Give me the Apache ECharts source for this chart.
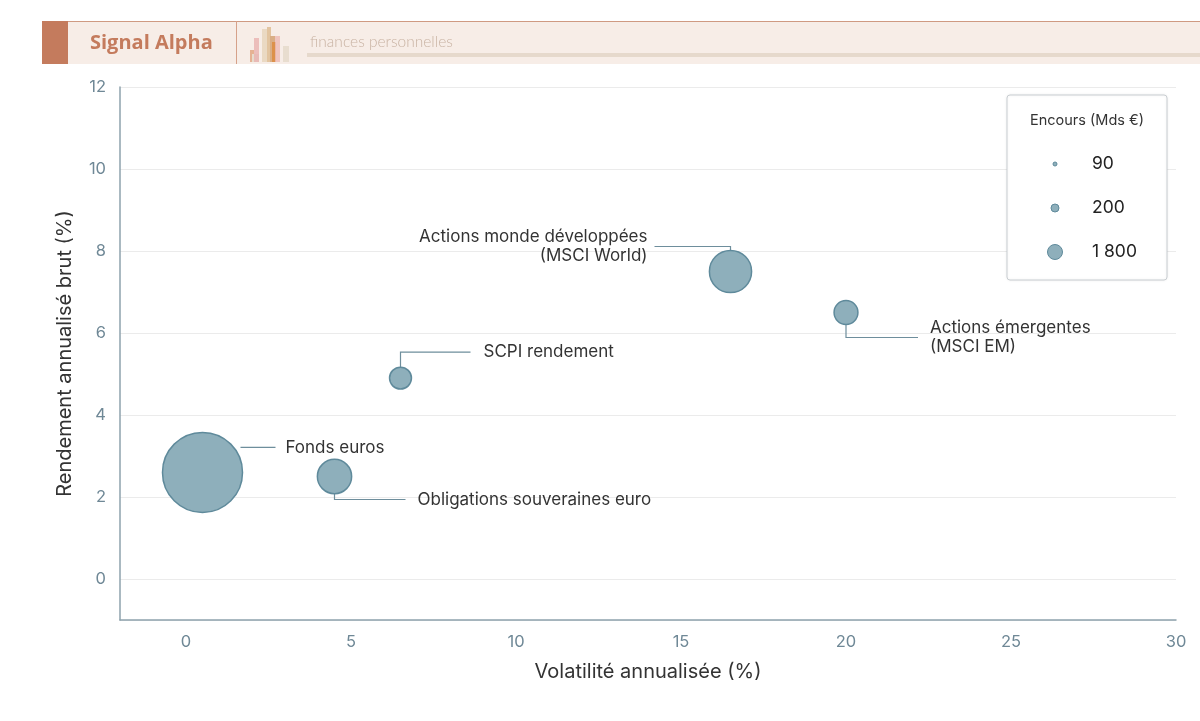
<!DOCTYPE html>
<html>
<head>
<meta charset="utf-8">
<script src="https://cdn.jsdelivr.net/npm/echarts@6/dist/echarts.min.js"></script>
<style>
  html, body { margin: 0; padding: 0; background: #fff; }
  #main { width: 1200px; height: 721px; }
</style>
</head>
<body>
<div id="main"></div>
<script>
var myChart = echarts.init(document.getElementById('main'));

// données
var names = ['Fonds euros', 'Obligations souveraines euro', 'SCPI rendement',
    'Actions monde développées\n(MSCI World)', 'Actions émergentes\n(MSCI EM)'];
var volatility = [0.5, 4.5, 6.5, 16.5, 20];
var returns = [2.6, 2.5, 4.9, 7.5, 6.5];
var assets = [1800, 330, 135, 500, 160];
var legendValues = [90, 200, 1800];
var legendLabels = ['90', '200', '1 800'];

// placement des étiquettes (style)
var labelPos = [
    { dir: 'h', dy: -25, x0: 38, x1: 73, tx: 83, align: 'left' },
    { dir: 'down', dy: 23, x1: 71, tx: 83, align: 'left' },
    { dir: 'up', dy: -26, x1: 70, tx: 83, align: 'left' },
    { dir: 'up', dy: -25, x1: -76, tx: -83, align: 'right' },
    { dir: 'down', dy: 25, x1: 72, tx: 84, align: 'left' }
];

var fill = '#8eafbb';
var stroke = '#5f8a9b';
var lineColor = '#6e8e9c';

var sizeOf = function (v) { return 1.886 * Math.sqrt(v); };

var data = [];
for (var i = 0; i < names.length; i++) {
    data.push([volatility[i], returns[i], assets[i], names[i]]);
}

var renderLabel = function (params, api) {
    var i = params.dataIndex;
    var c = api.coord([api.value(0), api.value(1)]);
    var r = sizeOf(api.value(2)) / 2;
    var p = labelPos[i];
    var pts;
    if (p.dir === 'h') {
        pts = [[c[0] + p.x0, c[1] + p.dy], [c[0] + p.x1, c[1] + p.dy]];
    } else {
        var edge = p.dir === 'up' ? -r : r;
        pts = [[c[0], c[1] + edge], [c[0], c[1] + p.dy], [c[0] + p.x1, c[1] + p.dy]];
    }
    return {
        type: 'group',
        children: [{
            type: 'polyline',
            shape: { points: pts },
            style: { stroke: lineColor, lineWidth: 1.2, fill: null }
        }, {
            type: 'text',
            x: c[0] + p.tx,
            y: c[1] + p.dy,
            style: {
                text: names[i],
                fill: '#333',
                font: '17px Inter',
                align: p.align,
                verticalAlign: 'middle',
                lineHeight: 19
            }
        }]
    };
};

// légende des tailles
var legendChildren = [{
    type: 'rect', z: 100,
    shape: { x: 1007, y: 95, width: 160, height: 185, r: 3 },
    style: { fill: '#fff', stroke: '#c9ced2', lineWidth: 1, shadowBlur: 3, shadowColor: 'rgba(0,0,0,0.08)' }
}, {
    type: 'text', z: 101, x: 1087, y: 121,
    style: { text: 'Encours (Mds €)', fill: '#333', font: '14.5px Inter', align: 'center', verticalAlign: 'middle' }
}];
var legendDots = [4, 8, 15];
for (var k = 0; k < legendValues.length; k++) {
    legendChildren.push({
        type: 'circle', z: 101, shape: { cx: 1055, cy: 164 + k * 44, r: legendDots[k] / 2 },
        style: { fill: fill, stroke: stroke, lineWidth: 1 }
    });
    legendChildren.push({
        type: 'text', z: 101, x: 1092, y: 164 + k * 44,
        style: { text: legendLabels[k], fill: '#222', font: '17.5px Inter', align: 'left', verticalAlign: 'middle' }
    });
}

// bandeau
var header = [
    { type: 'rect', shape: { x: 42, y: 21, width: 1158, height: 43 }, style: { fill: '#f7ede7' } },
    { type: 'rect', shape: { x: 42, y: 21, width: 1158, height: 1 }, style: { fill: '#cf9a82' } },
    { type: 'rect', shape: { x: 42, y: 21, width: 26, height: 43 }, style: { fill: '#c47b5d' } },
    { type: 'rect', shape: { x: 236, y: 21, width: 1, height: 43 }, style: { fill: '#d6a18a' } },
    { type: 'text', x: 90, y: 43, style: { text: 'Signal Alpha', fill: '#c47b5d', font: 'bold 20px "Open Sans"', verticalAlign: 'middle' } },
    { type: 'text', x: 310, y: 42, style: { text: 'finances personnelles', fill: '#c9b3a3', font: '300 15.5px Lato', verticalAlign: 'middle' } },
    { type: 'rect', shape: { x: 307, y: 53, width: 893, height: 4 }, style: { fill: '#e6d9cc' } },
    { type: 'rect', shape: { x: 250, y: 50, width: 4, height: 12 }, style: { fill: '#e0a27e', opacity: 0.8 } },
    { type: 'rect', shape: { x: 252, y: 54, width: 7, height: 8 }, style: { fill: '#e7dccd' } },
    { type: 'rect', shape: { x: 254, y: 38, width: 5, height: 24 }, style: { fill: '#e8b2b0', opacity: 0.8 } },
    { type: 'rect', shape: { x: 262, y: 29, width: 7, height: 33 }, style: { fill: '#ead9c3' } },
    { type: 'rect', shape: { x: 267, y: 27, width: 4, height: 35 }, style: { fill: '#e2c4a0' } },
    { type: 'rect', shape: { x: 270, y: 36, width: 5, height: 26 }, style: { fill: '#d9ae86' } },
    { type: 'rect', shape: { x: 272, y: 42, width: 4, height: 20 }, style: { fill: '#dc8a3c', opacity: 0.8 } },
    { type: 'rect', shape: { x: 275, y: 36, width: 5, height: 26 }, style: { fill: '#ecb9b4', opacity: 0.8 } },
    { type: 'rect', shape: { x: 283, y: 46, width: 6, height: 16 }, style: { fill: '#e8ddcf' } }
].concat(legendChildren);

var option = {
    animation: false,
    textStyle: { fontFamily: 'Inter' },
    graphic: { elements: header },
    grid: { left: 120, right: 24, top: 87, bottom: 101 },
    xAxis: {
        type: 'value',
        min: -2,
        max: 30,
        splitNumber: 6,
        name: 'Volatilité annualisée (%)',
        nameLocation: 'middle',
        nameGap: 42,
        nameTextStyle: { fontSize: 20, color: '#333' },
        axisLine: { show: true, onZero: false, lineStyle: { color: '#8ea2ad', width: 1.5 } },
        axisTick: { show: false },
        axisLabel: { showMinLabel: false, color: '#6f8896', fontSize: 16.5, margin: 14 },
        splitLine: { show: false }
    },
    yAxis: {
        type: 'value',
        min: -1,
        max: 12,
        splitNumber: 6,
        name: 'Rendement annualisé brut (%)',
        nameLocation: 'middle',
        nameGap: 45,
        nameTextStyle: { fontSize: 20, color: '#333' },
        axisLine: { show: true, onZero: false, lineStyle: { color: '#8ea2ad', width: 1.5 } },
        axisTick: { show: false },
        axisLabel: { showMinLabel: false, color: '#6f8896', fontSize: 16.5, margin: 14 },
        splitLine: { show: true, lineStyle: { color: '#ebebeb' } }
    },
    series: [{
        type: 'scatter',
        data: data,
        symbolSize: function (v) { return sizeOf(v[2]); },
        itemStyle: { color: fill, borderColor: stroke, borderWidth: 1.5, opacity: 1 },
        z: 3
    }, {
        type: 'custom',
        data: data,
        renderItem: renderLabel,
        z: 2,
        silent: true
    }]
};

myChart.setOption(option);
</script>
</body>
</html>
